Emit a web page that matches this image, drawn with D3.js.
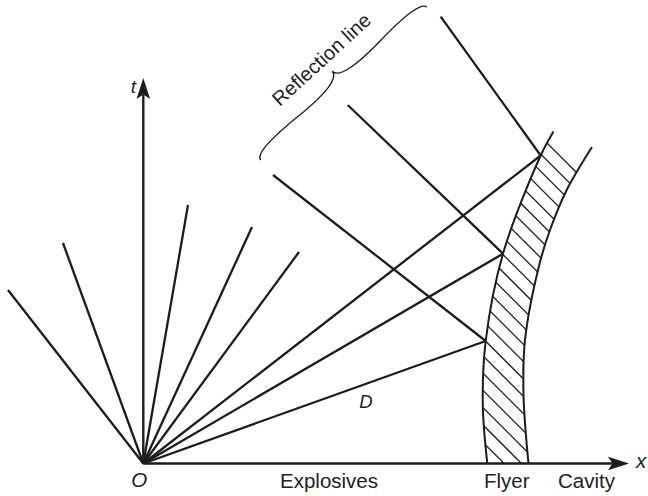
<!DOCTYPE html>
<html>
<head>
<meta charset="utf-8">
<script src="https://cdn.jsdelivr.net/npm/d3@7"></script>
<style>
  html, body { margin: 0; padding: 0; background: #fff; }
  svg { display: block; }
  text { font-family: "Liberation Sans", Arial, Helvetica, sans-serif; fill: #222; }
</style>
</head>
<body>
<svg id="chart" width="648" height="496"></svg>
<script>
// x–t diagram of an explosive driving a flyer plate into a cavity.
// Coordinates are (x, t) with the origin O at the detonation point.

// Rarefaction fan lines spreading back from O
const fanEnds = [[-135.3, 173.5], [-80.3, 220.5], [44.7, 258.5], [108.7, 236.5], [155.7, 211.5]];
// Detonation-product characteristics hitting the flyer (rays from O)
const hitPoints = [[397.4, 308.0], [359.7, 209.8], [342.4, 122.5]];
// Reflected waves leaving the flyer surface
const reflectEnds = [[297.4, 446.8], [204.4, 358.5], [129.7, 288.5]];
// Flyer trajectory: inner (explosive side) and outer (cavity side) surfaces
const flyerInner = [[344.0, 0], [339.5, 58.5], [342.4, 122.5], [359.7, 209.8], [397.4, 308.0], [410.2, 332.0]];
const flyerOuter = [[385.2, 0], [380.2, 68.5], [381.7, 123.5], [396.7, 201.5], [406.7, 233.5], [423.4, 273.5], [448.7, 316.5]];
// Axis extents
const xAxisEnd = 485.7;
const tAxisEnd = 385.5;
// Brace spanning the reflected waves
const braceEnds = [[283.4, 456.2], [117.4, 303.5]];
// Region labels along the x axis
const regionLabels = ["Explosives", "Flyer", "Cavity"];
const regionX = [136.7, 340.7, 414.7];

const svg = d3.select("#chart");
const x = d3.scaleLinear().domain([0, 500]).range([143.3, 643.3]);
const t = d3.scaleLinear().domain([0, 400]).range([463.5, 63.5]);
const ink = "#1c1c1c";

const curve = d3.line().x(d => x(d[0])).y(d => t(d[1])).curve(d3.curveCatmullRom.alpha(0.5));

// Hatched flyer band
const innerD = curve(flyerInner);
const outerD = curve(flyerOuter.slice().reverse());
const bandD = innerD + outerD.replace(/^M/, "L") + "Z";
svg.append("clipPath").attr("id", "flyerClip").append("path").attr("d", bandD);

const hatchStep = 17.3;
const hatchOffsets = d3.range(-404, -20, hatchStep);
svg.append("g").attr("clip-path", "url(#flyerClip)")
  .selectAll("line").data(hatchOffsets).join("line")
  .attr("x1", 440).attr("y1", c => 440 + c)
  .attr("x2", 640).attr("y2", c => 640 + c)
  .attr("stroke", ink).attr("stroke-width", 1.3);

svg.append("path").attr("d", curve(flyerInner)).attr("fill", "none").attr("stroke", ink).attr("stroke-width", 2);
svg.append("path").attr("d", curve(flyerOuter)).attr("fill", "none").attr("stroke", ink).attr("stroke-width", 2);

// Fan lines and rays from O
const rays = fanEnds.concat(hitPoints);
svg.append("g").selectAll("line").data(rays).join("line")
  .attr("x1", x(0)).attr("y1", t(0))
  .attr("x2", d => x(d[0])).attr("y2", d => t(d[1]))
  .attr("stroke", ink).attr("stroke-width", 2.3);

// Reflected waves
svg.append("g").selectAll("line").data(d3.zip(hitPoints, reflectEnds)).join("line")
  .attr("x1", d => x(d[0][0])).attr("y1", d => t(d[0][1]))
  .attr("x2", d => x(d[1][0])).attr("y2", d => t(d[1][1]))
  .attr("stroke", ink).attr("stroke-width", 2.3);

// Axes with arrowheads
const arrowLen = 21, arrowHalf = 6.8, arrowNotch = 16.5;
svg.append("line").attr("x1", x(0)).attr("y1", t(0)).attr("x2", x(xAxisEnd) - arrowNotch).attr("y2", t(0))
  .attr("stroke", ink).attr("stroke-width", 2.4);
svg.append("line").attr("x1", x(0)).attr("y1", t(0)).attr("x2", x(0)).attr("y2", t(tAxisEnd) + arrowNotch)
  .attr("stroke", ink).attr("stroke-width", 2.4);
const arrowD = `M0,0L${-arrowLen},${-arrowHalf}L${-arrowNotch},0L${-arrowLen},${arrowHalf}Z`;
svg.append("path").attr("d", arrowD).attr("fill", ink)
  .attr("transform", `translate(${x(xAxisEnd)},${t(0)})`);
svg.append("path").attr("d", arrowD).attr("fill", ink)
  .attr("transform", `translate(${x(0)},${t(tAxisEnd)}) rotate(-90)`);

// Curly brace
function bracePath(p1, p2, w, q) {
  const [x1, y1] = p1, [x2, y2] = p2;
  let dx = x1 - x2, dy = y1 - y2;
  const len = Math.hypot(dx, dy);
  dx /= len; dy /= len;
  const qx1 = x1 + q * w * dy, qy1 = y1 - q * w * dx;
  const qx2 = (x1 - 0.25 * len * dx) + (1 - q) * w * dy, qy2 = (y1 - 0.25 * len * dy) - (1 - q) * w * dx;
  const tx1 = (x1 - 0.5 * len * dx) + w * dy, ty1 = (y1 - 0.5 * len * dy) - w * dx;
  const qx3 = x2 + q * w * dy, qy3 = y2 - q * w * dx;
  const qx4 = (x1 - 0.75 * len * dx) + (1 - q) * w * dy, qy4 = (y1 - 0.75 * len * dy) - (1 - q) * w * dx;
  return `M${x1},${y1}Q${qx1},${qy1} ${qx2},${qy2}T${tx1},${ty1}M${x2},${y2}Q${qx3},${qy3} ${qx4},${qy4}T${tx1},${ty1}`;
}
const bA = [x(braceEnds[0][0]), t(braceEnds[0][1])];
const bB = [x(braceEnds[1][0]), t(braceEnds[1][1])];
svg.append("path").attr("d", bracePath(bA, bB, 17, 0.6))
  .attr("fill", "none").attr("stroke", ink).attr("stroke-width", 1.3);

// Brace label, parallel to the brace
const bMid = [(bA[0] + bB[0]) / 2, (bA[1] + bB[1]) / 2];
const bAng = Math.atan2(bA[1] - bB[1], bA[0] - bB[0]);
const nx = Math.sin(bAng), ny = -Math.cos(bAng);
svg.append("text")
  .attr("transform", `translate(${bMid[0] + nx * 26},${bMid[1] + ny * 26}) rotate(${bAng * 180 / Math.PI})`)
  .attr("text-anchor", "middle").attr("font-size", 20).text("Reflection line");

// Region labels under the x axis
svg.append("g").selectAll("text").data(regionLabels).join("text")
  .attr("x", (d, i) => x(regionX[i])).attr("y", 488)
  .attr("font-size", 20.5).text(d => d);

// Symbols
svg.append("text").attr("x", x(0) - 4).attr("y", 486.5).attr("text-anchor", "middle")
  .attr("font-size", 20.5).attr("font-style", "italic").text("O");
svg.append("text").attr("x", x(0) - 10).attr("y", 93).attr("text-anchor", "middle")
  .attr("font-size", 19).attr("font-style", "italic").text("t");
svg.append("text").attr("x", 641).attr("y", 468).attr("text-anchor", "middle")
  .attr("font-size", 20.5).attr("font-style", "italic").text("x");
svg.append("text").attr("x", 366).attr("y", 408).attr("text-anchor", "middle")
  .attr("font-size", 18.5).attr("font-style", "italic").text("D");
</script>
</body>
</html>
